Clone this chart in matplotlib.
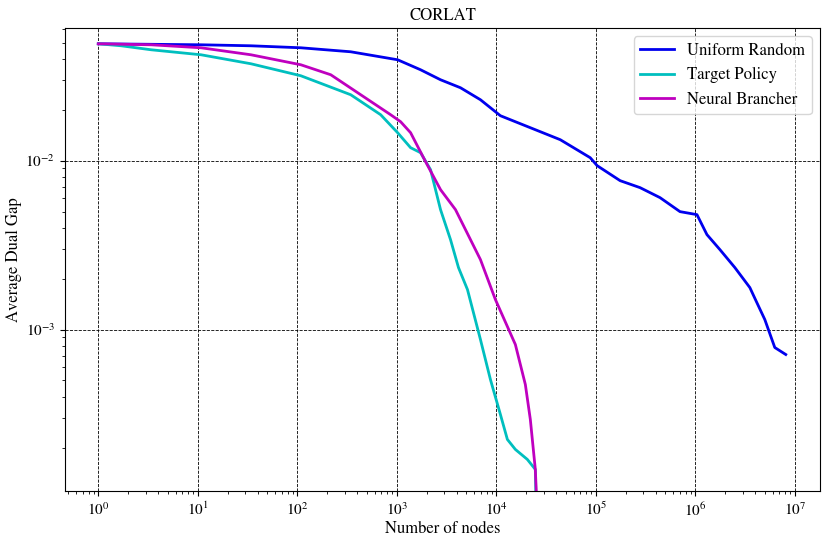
import numpy as np
import matplotlib
matplotlib.use("Agg")
import matplotlib.pyplot as plt

plt.rcParams["font.family"] = "STIXGeneral"
plt.rcParams["mathtext.fontset"] = "stix"

def conv(px):
    return [10 ** ((p - 97) / 99.7) for p in px]
def convy(py):
    return [10 ** (-2 + (161 - p) / 169) for p in py]

ur_px = [97,200,250,300,350,397,420,440,460,480,500,530,560,590,597,620,640,660,680,697,707,720,735,750,757,765,775,786]
ur_py = [44,45,46,48,52,60,70,80,88,100,116,128,140,158,166,181,188,198,212,215,235,250,268,288,303,320,348,355]
tp_px = [97,120,150,200,250,300,350,380,397,410,420,430,440,450,458,467,480,490,500,507,515,527,535,535.5]
tp_py = [44,46,50,55,64,76,95,115,133,148,153,170,210,240,268,290,340,380,415,440,450,460,470,493]
nb_px = [97,150,200,250,300,330,360,390,400,410,425,440,455,470,480,495,515,525,530,535,536]
nb_py = [44,45,48,55,65,75,95,115,122,133,162,190,210,240,260,300,345,385,420,470,493]

fig, ax = plt.subplots(figsize=(8.3, 5.4), dpi=100)
fig.subplots_adjust(left=0.078, right=0.988, top=0.948, bottom=0.09)
ax.plot(conv(ur_px), convy(ur_py), color="#0000ee", lw=2, label="Uniform Random")
ax.plot(conv(tp_px), convy(tp_py), color="#00bfbf", lw=2, label="Target Policy")
ax.plot(conv(nb_px), convy(nb_py), color="#bf00bf", lw=2, label="Neural Brancher")
ax.set_xscale("log"); ax.set_yscale("log")
ax.set_xlim(0.46, 1.8e7); ax.set_ylim(1.1e-4, 0.061)
ax.grid(True, which="major", ls="--", color="black", lw=0.6)
ax.set_title("CORLAT", fontsize=12)
ax.set_xlabel("Number of nodes", fontsize=12, labelpad=2)
ax.set_ylabel("Average Dual Gap", fontsize=12, labelpad=2)
ax.tick_params(labelsize=11)
ax.legend(loc="upper right", fontsize=12)
fig.savefig("out.png")
